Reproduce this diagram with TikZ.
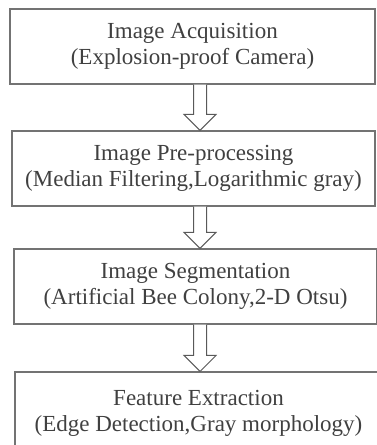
\documentclass[tikz,border=0pt]{standalone}
\usepackage{fontspec}
\setmainfont{Liberation Serif}
\usetikzlibrary{calc}
\begin{document}
\begin{tikzpicture}[x=1pt,y=-1pt,
  stage/.style={draw=black!55,line width=1.1pt,align=center,text=black!75,
    font=\fontsize{23}{26}\selectfont,inner sep=0pt,minimum height=75pt},
  flow/.style={draw=black!65,line width=1pt,fill=white,line join=miter}]

% Define the size of the hollow arrows
\def\shaft{6.5}
\def\head{16}
\def\tip{16}

% Fix the frame of the picture
\useasboundingbox (0,0) rectangle (377,445);
\clip (0,0) rectangle (377,445);

% The x position of all arrows
\coordinate (axis) at (200,0);

% Draw the four stages
\node[stage,minimum width=365pt] (acq) at (192.5,46.5) {Image Acquisition\\(Explosion-proof Camera)};
\node[stage,minimum width=363pt] (pre) at (193.5,168.5) {Image Pre-processing\\(Median Filtering,Logarithmic gray)};
\node[stage,minimum width=363pt] (seg) at (195.5,286.5) {Image Segmentation\\(Artificial Bee Colony,2-D Otsu)};
\node[stage,minimum width=367pt,minimum height=78pt,text depth=0pt] (fea) at (198.5,411) {Feature Extraction\\(Edge Detection,Gray morphology)};

% Hollow arrow from one stage down to the next
\def\hollowarrow#1#2{%
  \draw[flow] ($(#1.south -| axis)+(-\shaft,0)$) -- ($(#2.north -| axis)+(-\shaft,-\tip)$)
    -- ($(#2.north -| axis)+(-\head,-\tip)$) -- (#2.north -| axis)
    -- ($(#2.north -| axis)+(\head,-\tip)$) -- ($(#2.north -| axis)+(\shaft,-\tip)$)
    -- ($(#1.south -| axis)+(\shaft,0)$);}

% Draw the arrows
\hollowarrow{acq}{pre}
\hollowarrow{pre}{seg}
\hollowarrow{seg}{fea}

\end{tikzpicture}
\end{document}
